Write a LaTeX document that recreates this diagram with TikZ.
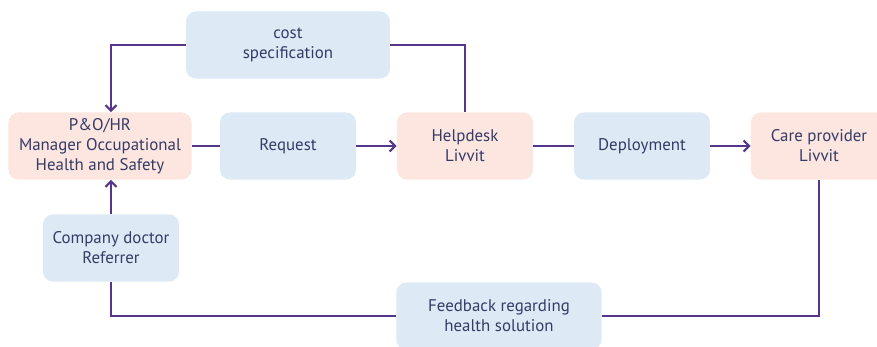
\documentclass[tikz,border=0pt]{standalone}
\usepackage{fontspec}
\setmainfont{PT Sans}
\usepackage{tikz}
\usetikzlibrary{arrows.meta,positioning}

\definecolor{flowline}{HTML}{55368C}
\definecolor{boxblue}{HTML}{DDEAF5}
\definecolor{boxpink}{HTML}{FCE6DF}
\definecolor{boxtext}{HTML}{353B66}

\begin{document}
\begin{tikzpicture}[x=0.025cm,y=-0.025cm,
  box node/.style={rounded corners=7pt,align=center,text=boxtext,
    font=\fontsize{12}{14.3}\selectfont,minimum width=3.4cm,
    minimum height=1.675cm,inner sep=2pt},
  blue node/.style={box node,fill=boxblue},
  pink node/.style={box node,fill=boxpink},
  flow/.style={draw=flowline,line width=1.5pt},
  >={Straight Barb[length=1.4mm,width=2.8mm]}]

  \clip (0,0) rectangle (877,347);

  \node[blue node,minimum width=5.1cm] (cost) at (288,45) {cost\\specification};

  \node[pink node,minimum width=4.575cm] (pohr) at (100,146)
    {P\&O/HR\\Manager Occupational\\Health and Safety};
  \node[blue node] (request) at (288,146) {Request};
  \node[pink node] (helpdesk) at (465,146) {Helpdesk\\Livvit};
  \node[blue node] (deploy) at (642,146) {Deployment};
  \node[pink node] (care) at (819,146) {Care provider\\Livvit};

  \node[blue node] (doctor) at (111,248) {Company doctor\\Referrer};
  \node[blue node,minimum width=5.125cm] (feedback) at (499,316)
    {Feedback regarding\\health solution};

  \draw[flow,->] (cost.west) -| (doctor.north |- pohr.north);
  \draw[flow] (cost.east) -| (helpdesk.north);

  \draw[flow] (pohr) -- (request);
  \draw[flow,->] (request) -- (helpdesk);
  \draw[flow] (helpdesk) -- (deploy);
  \draw[flow,->] (deploy) -- (care);

  \draw[flow] (care.south) |- (feedback.east);
  \draw[flow] (feedback.west) -| (doctor.south);
  \draw[flow,->] (doctor.north) -- (doctor.north |- pohr.south);

\end{tikzpicture}
\end{document}
